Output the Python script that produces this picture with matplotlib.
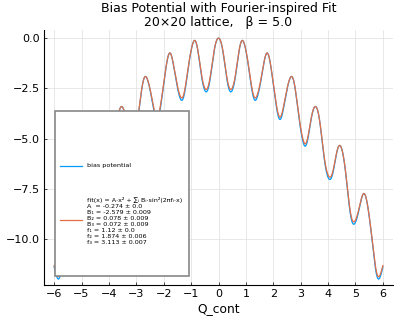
import numpy as np
import matplotlib

matplotlib.use("Agg")
import matplotlib.pyplot as plt
from matplotlib.lines import Line2D
from matplotlib.patches import Rectangle
from matplotlib.ticker import FuncFormatter

# fit parameters, as printed in the legend
A_fit = -0.274
A_err = 0.0
B_fit = [-2.579, 0.078, 0.072]
B_err = [0.009, 0.009, 0.009]
f_fit = [1.12, 1.874, 3.113]
f_err = [0.0, 0.006, 0.007]

# bias potential: same wells, slightly deeper
A_bias = -0.274
B_bias = [-2.70, 0.078, 0.072]
f_bias = [1.12, 1.874, 3.113]

q_min, q_max = -6.0, 6.0
x_ticks = list(range(-6, 7))
y_ticks = [0.0, -2.5, -5.0, -7.5, -10.0]

BLUE = "#009AFA"
RED = "#E36F47"


def model(q, a, b, f):
    out = a * q**2
    for bi, fi in zip(b, f):
        out = out + bi * np.sin(np.pi * fi * q) ** 2
    return out


q = np.linspace(q_min, q_max, 1201)
bias = model(q, A_bias, B_bias, f_bias)
fit = model(q, A_fit, B_fit, f_fit)

fig = plt.figure(figsize=(4.0, 3.2), dpi=100)
ax = fig.add_axes([0.11, 0.109, 0.8725, 0.797])

ax.plot(q, bias, color=BLUE, lw=0.9, zorder=3)
ax.plot(q, fit, color=RED, lw=0.9, zorder=4)

ax.set_xlim(-6.37, 6.37)
ax.set_ylim(-12.28, 0.4)
ax.set_xticks(x_ticks)
ax.set_yticks(y_ticks)
ax.yaxis.set_major_formatter(FuncFormatter(lambda v, _: f"{v:.1f}".replace("-", "\u2212")))
ax.grid(True, color="#e4e4e4", lw=0.6)
ax.set_axisbelow(True)
for side in ("top", "right"):
    ax.spines[side].set_visible(False)
for side in ("left", "bottom"):
    ax.spines[side].set_linewidth(0.8)
ax.tick_params(direction="in", length=2.5, width=0.5, labelsize=8, pad=3)
ax.set_xlabel("Q_cont", fontsize=8.8, labelpad=2)
ax.set_title("Bias Potential with Fourier-inspired Fit\n20×20 lattice,   β = 5.0",
             fontsize=9, linespacing=1.05, pad=3)

# legend, laid out like the Plots.jl/GR one (equal-height entries)
W, H = 400.0, 320.0


def fx(px):
    return px / W


def fy(py):
    return 1 - py / H


fig.patches.append(Rectangle((fx(55), fy(276)), fx(189) - fx(55), fy(111) - fy(276),
                             transform=fig.transFigure, facecolor="white",
                             edgecolor="#888888", lw=1.2, zorder=10))
fig.lines.append(Line2D([fx(60), fx(82)], [fy(166), fy(166)], transform=fig.transFigure,
                        color=BLUE, lw=0.9, zorder=11))
fig.lines.append(Line2D([fx(60), fx(82)], [fy(220), fy(220)], transform=fig.transFigure,
                        color=RED, lw=0.9, zorder=11))

fit_label = "\n".join([
    "fit(x) = A·x² + ∑ᵢ Bᵢ·sin²(2πfᵢ·x)",
    f"A  = {A_fit} ± {A_err}",
    f"B₁ = {B_fit[0]} ± {B_err[0]}",
    f"B₂ = {B_fit[1]} ± {B_err[1]}",
    f"B₃ = {B_fit[2]} ± {B_err[2]}",
    f"f₁ = {f_fit[0]} ± {f_err[0]}",
    f"f₂ = {f_fit[1]} ± {f_err[1]}",
    f"f₃ = {f_fit[2]} ± {f_err[2]}",
])
fig.text(fx(87), fy(166), "bias potential", fontsize=4.6, va="center", ha="left", zorder=12)
fig.text(fx(87), fy(221), fit_label, fontsize=4.6, va="center", ha="left",
         linespacing=1.25, zorder=12)

fig.savefig("out.png", dpi=100)
